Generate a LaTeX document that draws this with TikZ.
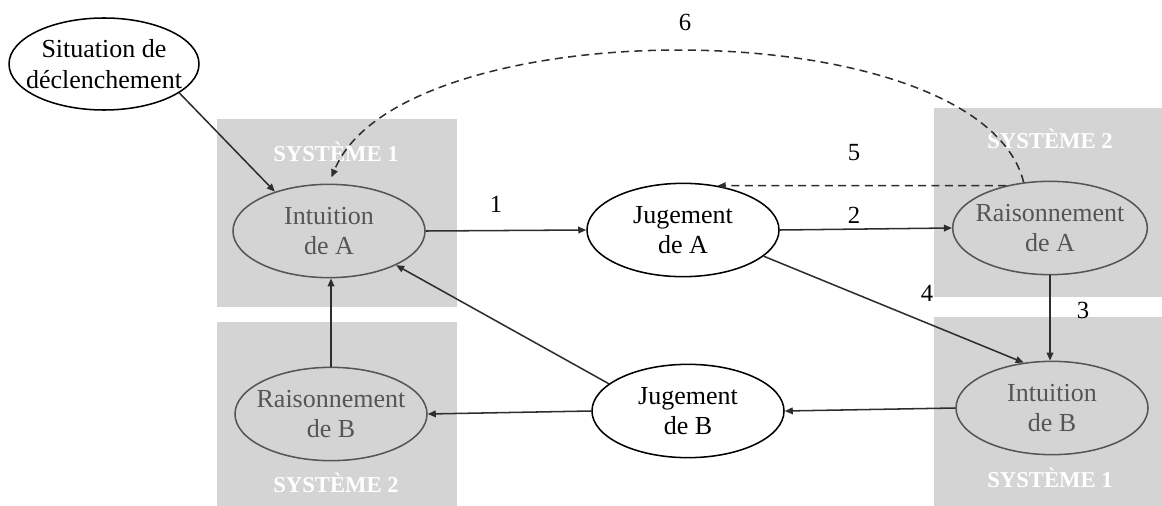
\documentclass[tikz,border=0pt]{standalone}
\usepackage{fontspec}
\setmainfont{Liberation Serif}
\usetikzlibrary{shapes.geometric,arrows.meta}
\definecolor{boxgray}{HTML}{D4D4D4}
\definecolor{ingray}{HTML}{555555}
\definecolor{linegray}{HTML}{2E2E2E}
\tikzset{
  ell/.style={ellipse, draw=black, line width=1.15pt, fill=white,
    inner xsep=-20pt, inner ysep=-12pt,
    minimum width=144pt, minimum height=70pt, align=center,
    font=\fontsize{19.5}{23}\selectfont},
  gell/.style={ell, draw=ingray, fill=none, text=ingray},
  sysbox/.style={fill=boxgray, draw=none},
  syslabel/.style={text=white, font=\fontsize{17}{19}\selectfont\bfseries},
  num/.style={font=\fontsize{18.5}{20}\selectfont},
  arr/.style={draw=linegray, line width=1.15pt, -{Triangle[length=6pt,width=5pt]}},
  darr/.style={arr, dashed, dash pattern=on 6pt off 4pt}
}
\begin{document}
\begin{tikzpicture}[x=0.75pt,y=-0.75pt]
\useasboundingbox (0,0) rectangle (1162,506);
% grey boxes
\fill[sysbox] (217,119) rectangle (457,307);
\fill[sysbox] (217,322) rectangle (457,506);
\fill[sysbox] (934,108) rectangle (1162,297);
\fill[sysbox] (934,317) rectangle (1162,506);
\node[syslabel] (s1a) at (336,152) {SYSTÈME 1};
\node[syslabel] (s2b) at (336,483) {SYSTÈME 2};
\node[syslabel] (s2a) at (1050,139) {SYSTÈME 2};
\node[syslabel] (s1b) at (1050,478) {SYSTÈME 1};
% ellipses
\node[ell, minimum width=142.5pt, minimum height=69pt] (sit) at (104,64) {Situation de\\déclenchement};
\node[gell] (intA) at (329,231) {Intuition\\de A};
\node[ell] (jugA) at (683,230) {Jugement\\de A};
\node[gell, minimum width=146pt] (raiA) at (1050,228) {Raisonnement\\de A};
\node[gell] (intB) at (1052,408) {Intuition\\de B};
\node[ell] (jugB) at (688,411) {Jugement\\de B};
\node[gell] (raiB) at (331,414) {Raisonnement\\de B};
% connectors
\draw[arr] (sit.-21) -- (intA.144);
\draw[arr] (intA.east) -- (jugA.west);
\draw[arr] (jugA.east) -- (raiA.west);
\draw[arr] (raiA.south) -- (raiA.south |- intB.north);
\draw[arr] (jugA.-18) -- (intB.122);
\draw[arr] (intB.west) -- (jugB.east);
\draw[arr] (jugB.west) -- (raiB.east);
\draw[arr] (raiB.north) -- (raiB.north |- intA.south);
\draw[arr] (jugB.161) -- (intA.-27);
\draw[darr] (raiA.136) -- (jugA.52.5);
\draw[darr, shorten >=5pt] (raiA.120) .. controls (980,8) and (400,8) .. (intA.north);
% labels
\node[num] (n1) at (496,204) {1};
\node[num] (n2) at (854,215) {2};
\node[num] (n3) at (1083,310) {3};
\node[num] (n4) at (927,293) {4};
\node[num] (n5) at (854,153) {5};
\node[num] (n6) at (685,22) {6};
\end{tikzpicture}
\end{document}
